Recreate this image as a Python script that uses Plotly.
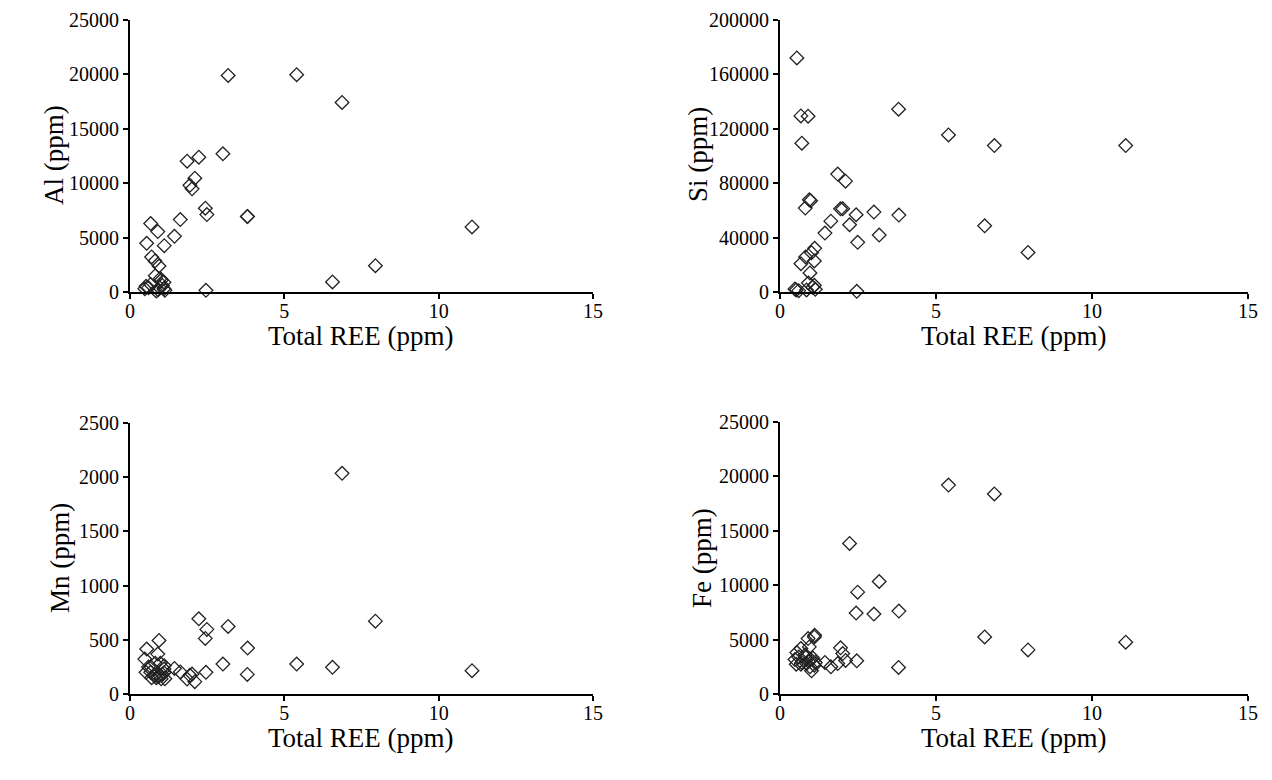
import plotly.graph_objects as go

# Total REE (ppm) for each sample
total_ree = [3.18, 5.40, 6.87, 3.01, 1.85, 2.23, 2.10, 1.94, 2.01, 2.44, 2.49, 3.80, 3.81,
             1.63, 1.44, 11.08, 7.95, 6.56, 2.46,
             0.54, 0.67, 0.90, 0.70, 0.94, 0.98, 0.81, 1.11, 1.01, 0.82, 0.67, 1.10, 0.96,
             0.91, 1.10, 1.05, 0.48, 0.52, 0.85, 0.60, 1.13]
al = [19900, 19970, 17420, 12700, 12020, 12390, 10460, 9810, 9480, 7700, 7115, 6930, 6950,
      6655, 5120, 5980, 2420, 920, 150,
      4480, 6290, 5550, 3220, 2390, 1230, 2850, 4260, 1070, 1500, 700, 900, 400,
      200, 300, 600, 300, 520, 100, 400, 150]
si = [41900, 115500, 107700, 58750, 86700, 49450, 81500, 61200, 61200, 56800, 36500, 134400, 56550,
      52100, 43300, 107700, 29100, 48700, 500,
      172100, 129500, 129250, 109400, 67800, 67100, 61700, 32100, 28900, 25700, 20800, 22800, 14000,
      6600, 4900, 3500, 2200, 1500, 1500, 1000, 2000]
mn = [623, 276, 2036, 276, 138, 694, 114, 172, 184, 513, 596, 181, 424,
      203, 236, 215, 672, 246, 200,
      415, 252, 368, 150, 494, 283, 170, 261, 140, 283, 200, 196, 170,
      160, 230, 180, 322, 200, 150, 250, 140]
fe = [10340, 19200, 18390, 7350, 2800, 13840, 3080, 4240, 3720, 7440, 9360, 2440, 7620,
      2500, 2900, 4760, 4055, 5240, 3050,
      3810, 4180, 5090, 2900, 4330, 3170, 3600, 5400, 2130, 3400, 2740, 5240, 2500,
      3000, 2650, 3300, 3170, 2740, 2800, 3400, 2900]

x_ticks = [0, 5, 10, 15]
x_title = "Total REE (ppm)"
panels = [
    ("Al (ppm)", al, [0, 5000, 10000, 15000, 20000, 25000]),
    ("Si (ppm)", si, [0, 40000, 80000, 120000, 160000, 200000]),
    ("Mn (ppm)", mn, [0, 500, 1000, 1500, 2000, 2500]),
    ("Fe (ppm)", fe, [0, 5000, 10000, 15000, 20000, 25000]),
]

OFF = 8  # page body margin
W, H = 1256, 764


def px(a):
    return (a - OFF) / W


def py(b):
    return 1 - (b - OFF) / H


xdoms = [[px(130), px(593)], [px(780), px(1248)], [px(130), px(593)], [px(780), px(1248)]]
ydoms = [[py(292), py(20)], [py(292), py(20)], [py(694), py(423)], [py(694), py(422)]]
# title anchor positions (page pixels)
xtitle_pos = [(361, 336), (1014, 336), (361, 738), (1014, 738)]
ytitle_pos = [(54, 155), (698, 155), (60, 558), (702, 558)]

fig = go.Figure()
font_family = "Times New Roman, Liberation Serif, serif"
layout = dict(
    width=W, height=H,
    margin=dict(l=0, r=0, t=0, b=0, autoexpand=False),
    paper_bgcolor="white", plot_bgcolor="white",
    showlegend=False,
    font=dict(family=font_family, color="black"),
)
annotations = []

for i, (ytitle, yvals, yticks) in enumerate(panels):
    n = i + 1
    xa = "x" if n == 1 else f"x{n}"
    ya = "y" if n == 1 else f"y{n}"
    fig.add_trace(go.Scatter(
        x=total_ree, y=yvals, mode="markers",
        marker=dict(symbol="diamond-open", size=10.5, color="#222222", line=dict(width=1.3)),
        xaxis=xa, yaxis=ya, cliponaxis=False,
    ))
    common = dict(showgrid=False, zeroline=False, showline=True, linecolor="black", linewidth=2,
                  ticks="outside", ticklen=5, tickwidth=2, tickcolor="black", automargin=False,
                  tickfont=dict(size=20, family=font_family, color="black"))
    layout[f"xaxis{'' if n == 1 else n}"] = dict(
        domain=xdoms[i], anchor=ya, range=[0, 15], tickvals=x_ticks, ticklabelstandoff=-5,
        **common)
    layout[f"yaxis{'' if n == 1 else n}"] = dict(
        domain=ydoms[i], anchor=xa, range=[0, yticks[-1]], tickvals=yticks,
        ticktext=[str(v) for v in yticks],
        **common)
    annotations.append(dict(
        text=x_title, xref="paper", yref="paper",
        x=px(xtitle_pos[i][0]), y=py(xtitle_pos[i][1]),
        xanchor="center", yanchor="middle", showarrow=False,
        font=dict(size=27, family=font_family, color="black")))
    annotations.append(dict(
        text=ytitle, xref="paper", yref="paper", textangle=-90,
        x=px(ytitle_pos[i][0]), y=py(ytitle_pos[i][1]),
        xanchor="center", yanchor="middle", showarrow=False,
        font=dict(size=27, family=font_family, color="black")))

layout["annotations"] = annotations
fig.update_layout(**layout)
fig.write_html("out.html")
